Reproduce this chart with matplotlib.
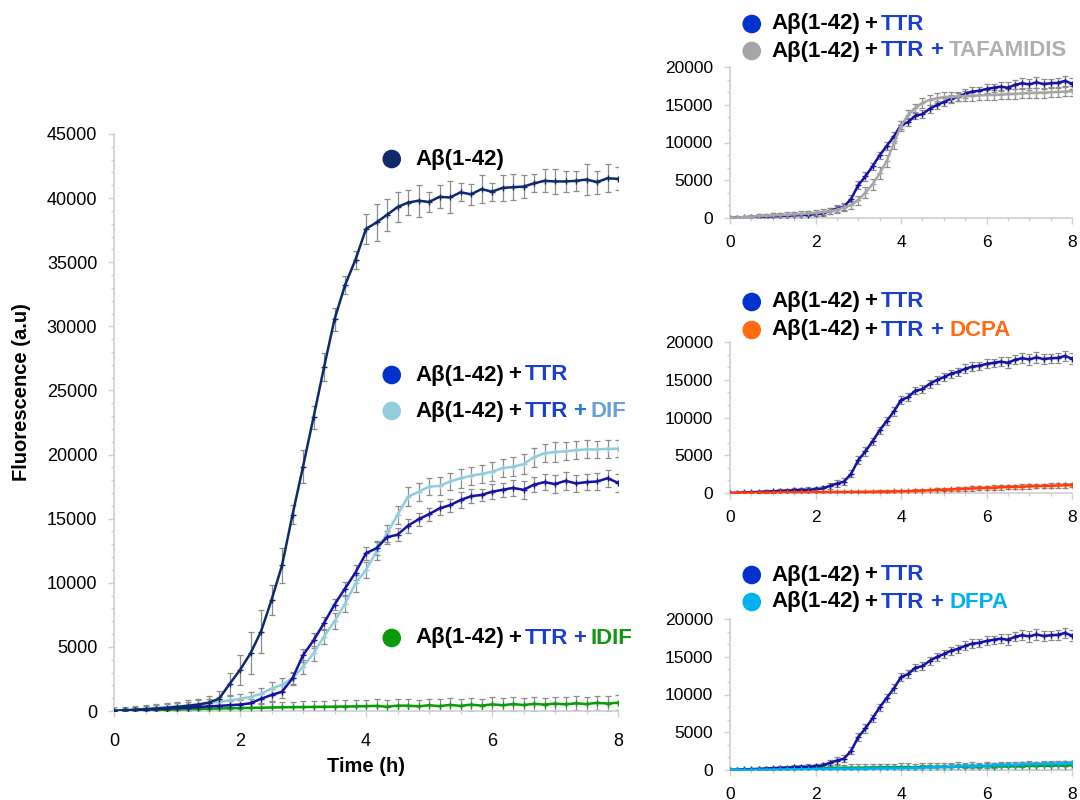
import matplotlib
matplotlib.use("Agg")
import matplotlib.pyplot as plt
from matplotlib.offsetbox import TextArea, DrawingArea, HPacker, AnnotationBbox
from matplotlib.patches import Circle
from matplotlib.ticker import MultipleLocator

plt.rcParams['font.family'] = ['Liberation Sans', 'DejaVu Sans']

# sampling times (min), one reading every 10 min
minutes = [0, 10, 20, 30, 40, 50, 60, 70, 80, 90, 100, 110, 120, 130, 140, 150, 160,
           170, 180, 190, 200, 210, 220, 230, 240, 250, 260, 270, 280, 290, 300, 310,
           320, 330, 340, 350, 360, 370, 380, 390, 400, 410, 420, 430, 440, 450, 460,
           470, 480]
hours = [m / 60 for m in minutes]

# A-beta(1-42) alone
ab42 = [0, 40, 90, 140, 190, 250, 320, 400, 500, 650, 950, 2100, 3200, 4500, 6200,
        8650, 11350, 15300, 19050, 22900, 26800, 30550, 33200, 35200, 37600, 38100,
        38700, 39300, 39650, 39800, 39700, 40100, 40050, 40450, 40300, 40700, 40500,
        40800, 40850, 40900, 41150, 41350, 41300, 41300, 41350, 41450, 41250, 41550,
        41500]
ab42_err = [300, 300, 320, 340, 360, 380, 400, 420, 450, 500, 600, 900, 1200, 1650,
            1700, 1150, 1400, 750, 1300, 900, 1100, 900, 700, 700, 1150, 1450, 1250,
            1200, 1000, 1250, 800, 900, 1250, 700, 800, 1100, 700, 1000, 1000, 900,
            700, 900, 1000, 800, 800, 1200, 900, 1100, 900]

# A-beta(1-42) + TTR
ttr = [0, 40, 80, 110, 150, 190, 230, 270, 310, 360, 400, 450, 500, 600, 950, 1250,
       1500, 2550, 4350, 5500, 6850, 8300, 9550, 10800, 12300, 12700, 13550, 13750,
       14450, 14950, 15350, 15800, 16050, 16450, 16750, 16850, 17100, 17250, 17400,
       17250, 17650, 17850, 17700, 17950, 17750, 17850, 17900, 18150, 17800]
ttr_err = [100, 120, 140, 160, 180, 200, 220, 240, 260, 280, 300, 300, 320, 350,
           400, 450, 500, 450, 500, 550, 500, 450, 500, 550, 500, 550, 500, 500, 550,
           500, 500, 550, 500, 600, 550, 500, 600, 550, 600, 700, 600, 650, 700, 700,
           650, 600, 650, 650, 700]

# + DIF
dif = [0, 60, 120, 180, 240, 300, 360, 420, 520, 620, 720, 830, 950, 1100, 1350,
       1750, 2050, 2550, 3450, 4500, 5800, 7000, 8350, 9950, 11000, 12450, 13850,
       15300, 16700, 17100, 17500, 17550, 17900, 18150, 18350, 18500, 18650, 18950,
       19050, 19250, 19800, 20100, 20200, 20250, 20350, 20400, 20400, 20450, 20450]
dif_err = [150, 170, 190, 210, 230, 250, 270, 290, 310, 330, 350, 380, 400, 420, 450,
           480, 500, 520, 550, 580, 600, 620, 650, 650, 650, 700, 650, 700, 750, 700,
           650, 700, 700, 750, 700, 700, 750, 700, 750, 800, 750, 700, 750, 700, 700,
           700, 650, 700, 650]

# + IDIF
idif = [0, 20, 40, 60, 80, 100, 120, 140, 160, 180, 200, 215, 230, 245, 260, 275, 290,
        300, 310, 320, 330, 340, 350, 360, 380, 400, 330, 420, 420, 360, 450, 380, 480,
        400, 500, 420, 520, 450, 540, 470, 560, 500, 580, 520, 600, 540, 640, 580, 650]
idif_err = [100, 120, 140, 160, 180, 200, 220, 240, 260, 280, 300, 320, 340, 360, 380,
            400, 420, 440, 450, 460, 470, 480, 490, 500, 500, 500, 500, 510, 510, 520,
            520, 520, 530, 530, 530, 540, 540, 540, 550, 550, 550, 550, 550, 560, 560,
            560, 560, 560, 560]

# + TAFAMIDIS
taf = [0, 60, 120, 180, 240, 290, 340, 390, 440, 490, 540, 600, 680, 780, 900, 1100,
       1400, 1720, 2380, 3350, 4450, 5900, 7550, 9900, 12200, 13650, 14550, 15250,
       15650, 15850, 16000, 16050, 16100, 16150, 16200, 16250, 16300, 16300, 16350,
       16400, 16450, 16500, 16550, 16600, 16600, 16650, 16700, 16750, 16800]
taf_err = [150, 170, 190, 210, 230, 250, 270, 290, 310, 330, 350, 370, 390, 410, 430,
           450, 470, 500, 600, 700, 750, 800, 750, 700, 650, 600, 600, 650, 650, 650,
           650, 650, 650, 650, 650, 650, 650, 650, 650, 650, 650, 650, 650, 650, 650,
           650, 650, 650, 650]

# + DCPA
dcpa = [0, 10, 20, 30, 40, 50, 60, 70, 80, 90, 100, 105, 110, 115, 120, 125, 130, 140,
        150, 160, 170, 180, 190, 200, 220, 250, 280, 310, 350, 390, 430, 470, 510, 560,
        600, 640, 680, 720, 760, 790, 820, 850, 880, 910, 940, 970, 1000, 1020, 1050]
dcpa_err = [50, 55, 60, 65, 70, 75, 80, 85, 90, 95, 100, 105, 110, 115, 120, 125, 130,
            135, 140, 145, 150, 155, 160, 165, 170, 180, 190, 200, 210, 220, 230, 240,
            250, 260, 270, 280, 290, 300, 300, 300, 300, 300, 300, 300, 300, 300, 300,
            300, 300]

# + DFPA
dfpa = [0, 10, 20, 30, 40, 50, 60, 70, 80, 90, 100, 110, 120, 130, 140, 150, 160, 170,
        180, 190, 200, 210, 220, 230, 240, 260, 290, 320, 350, 380, 410, 440, 470, 500,
        530, 560, 590, 620, 650, 680, 710, 740, 770, 800, 820, 840, 860, 880, 900]
dfpa_err = [80, 90, 100, 110, 120, 130, 140, 150, 160, 170, 180, 190, 200, 210, 220,
            230, 240, 250, 260, 270, 280, 290, 300, 300, 300, 300, 300, 300, 300, 300,
            300, 300, 300, 300, 300, 300, 300, 300, 300, 300, 300, 300, 300, 300, 300,
            300, 300, 300, 300]

C_AB = '#0f2a68'
C_TTR = '#1414a0'
C_TTR_DOT = '#0033cc'
C_TTR_TXT = '#1a3fd0'
C_DIF = '#92cddc'
C_DIF_TXT = '#6a9fdc'
C_IDIF = '#0a9a0a'
C_TAF = '#a6a6a6'
C_DCPA = '#ff3c0a'
C_DCPA_DOT = '#ff6a13'
C_DFPA = '#00b0f0'
ERR = '#8c8c8c'
AXC = '#d0d0d0'


def draw(ax, y, err, color):
    ax.errorbar(hours, y, yerr=err, fmt='none', ecolor=ERR, elinewidth=0.9,
                capsize=2.5, capthick=0.9, zorder=2)
    ax.plot(hours, y, color=color, lw=1.8, marker='+', ms=4, mew=1.0, zorder=3)


def style(ax, ymax, ymajor, yminor, size, xpad, ypad):
    ax.set_xlim(0, 8)
    ax.set_ylim(0, ymax)
    ax.xaxis.set_major_locator(MultipleLocator(2))
    ax.xaxis.set_minor_locator(MultipleLocator(0.5))
    ax.yaxis.set_major_locator(MultipleLocator(ymajor))
    ax.yaxis.set_minor_locator(MultipleLocator(yminor))
    for s in ['top', 'right']:
        ax.spines[s].set_visible(False)
    for s in ['left', 'bottom']:
        ax.spines[s].set_color(AXC)
        ax.spines[s].set_linewidth(1.2)
    ax.tick_params(which='major', length=4, color=AXC, width=1, labelsize=size)
    ax.tick_params(which='minor', length=2.5, color=AXC, width=1)
    ax.tick_params(axis='x', which='major', pad=xpad)
    ax.tick_params(axis='y', which='major', pad=ypad)


def legend_row(fig, x, y, dot, parts, tail, gap, size=16, tail_sep=4.5):
    da = DrawingArea(12.6, 12.6, 0, 0)
    da.add_artist(Circle((6.3, 6.3), 6.2, color=dot))

    def group(items, sep):
        tas = [TextArea(s, textprops=dict(color=c, fontsize=size, fontweight='bold'))
               for s, c in items]
        return HPacker(children=tas, align='baseline', pad=0, sep=sep)

    row = group(parts, 2.5)
    if tail:
        row = HPacker(children=[row, group(tail, tail_sep)], align='baseline', pad=0,
                      sep=tail_sep)
    box = HPacker(children=[da, row], align='center', pad=0, sep=gap)
    ab = AnnotationBbox(box, (x, y), xycoords='figure fraction', box_alignment=(0, 0.5),
                        frameon=False, pad=0)
    fig.add_artist(ab)


fig = plt.figure(figsize=(10.8, 8), dpi=100)

# main panel
ax = fig.add_axes([114 / 1080, 89 / 800, 504 / 1080, 577 / 800])
draw(ax, idif, idif_err, C_IDIF)
draw(ax, dif, dif_err, C_DIF)
draw(ax, ttr, ttr_err, C_TTR)
draw(ax, ab42, ab42_err, C_AB)
style(ax, 45000, 5000, 1000, 13, 12, 8)
fig.text(22 / 1080, 1 - 392 / 800, 'Fluorescence (a.u)', rotation=90, ha='center',
         va='center', fontsize=14.5, fontweight='bold')
fig.text(366 / 1080, 1 - 767 / 800, 'Time (h)', ha='center', va='center',
         fontsize=14.5, fontweight='bold')

ab_txt = [('Aβ(1-42)', 'black')]
ttr_txt = [('Aβ(1-42)', 'black'), ('+', 'black'), ('TTR', C_TTR_TXT)]
legend_row(fig, 383 / 1080, 1 - 159 / 800, C_AB, ab_txt, None, 11)
legend_row(fig, 383 / 1080, 1 - 375 / 800, C_TTR_DOT, ttr_txt, None, 11)
legend_row(fig, 383 / 1080, 1 - 411 / 800, C_DIF, ttr_txt,
           [('+', '#1f78d0'), ('DIF', C_DIF_TXT)], 11, tail_sep=3.5)
legend_row(fig, 383 / 1080, 1 - 638 / 800, C_IDIF, ttr_txt,
           [('+', C_TTR_TXT), ('IDIF', '#149614')], 11, tail_sep=3.5)

# right-hand panels
panels = [
    (218, taf, taf_err, C_TAF, C_TAF, 'TAFAMIDIS', '#b0b0b0', 24, 51),
    (493, dcpa, dcpa_err, C_DCPA, C_DCPA_DOT, 'DCPA', C_DCPA_DOT, 302, 330),
    (770, dfpa, dfpa_err, C_DFPA, C_DFPA, 'DFPA', C_DFPA, 575, 602),
]
for bottom_px, ys, es, col, dot, name, tcol, ly1, ly2 in panels:
    axr = fig.add_axes([730 / 1080, (800 - bottom_px) / 800, 342 / 1080, 151 / 800])
    if name == 'DFPA':
        draw(axr, idif, idif_err, C_IDIF)
    draw(axr, ttr, ttr_err, C_TTR)
    draw(axr, ys, es, col)
    style(axr, 20000, 5000, 5000 / 3, 12.5, 8, 8)
    legend_row(fig, 743 / 1080, 1 - ly1 / 800, C_TTR_DOT, ttr_txt, None, 8)
    legend_row(fig, 743 / 1080, 1 - ly2 / 800, dot, ttr_txt,
               [('+', C_TTR_TXT), (name, tcol)], 8)

fig.savefig('out.png', dpi=100)
